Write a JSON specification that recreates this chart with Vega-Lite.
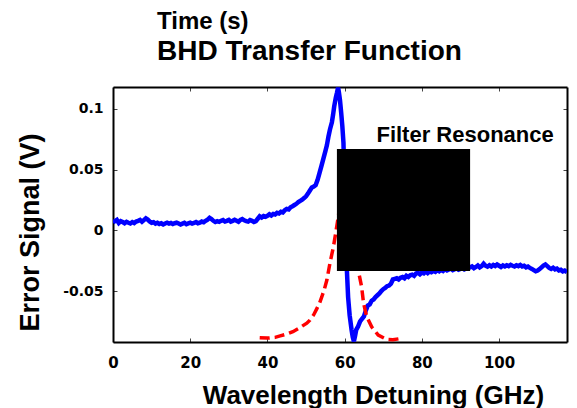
{
  "$schema": "https://vega.github.io/schema/vega-lite/v6.json",
  "width": 454,
  "height": 255,
  "autosize": {"type": "none"},
  "padding": {"left": 113, "top": 87, "right": 10, "bottom": 66},
  "background": "white",
  "config": {
    "view": {"stroke": null},
    "axis": {
      "domainColor": "black",
      "domainWidth": 2,
      "tickColor": "#444444",
      "tickWidth": 1,
      "tickSize": -4,
      "grid": false,
      "labelColor": "black",
      "labelFont": "DejaVu Sans",
      "labelFontWeight": "bold",
      "titleColor": "black",
      "titleFont": "Liberation Sans",
      "titleFontWeight": "bold"
    }
  },
  "title": {
    "text": "Time (s)",
    "subtitle": "BHD Transfer Function",
    "anchor": "start",
    "frame": "group",
    "dx": 44,
    "offset": 21,
    "font": "Liberation Sans",
    "fontSize": 24,
    "fontWeight": "bold",
    "color": "black",
    "subtitleFont": "Liberation Sans",
    "subtitleFontSize": 28,
    "subtitleFontWeight": "bold",
    "subtitleColor": "black",
    "subtitlePadding": 4
  },
  "datasets": {
    "signal": [
      {"x": 0, "y": 0.0065}, {"x": 0.5, "y": 0.0075}, {"x": 1, "y": 0.0085}, {"x": 1.5, "y": 0.006}, {"x": 2, "y": 0.0075}, {"x": 2.5, "y": 0.0068}, {"x": 3, "y": 0.0058}, {"x": 3.5, "y": 0.007}, {"x": 4, "y": 0.0062}, {"x": 4.5, "y": 0.0056}, {"x": 5, "y": 0.0068}, {"x": 5.5, "y": 0.006}, {"x": 6, "y": 0.0072}, {"x": 6.5, "y": 0.0078}, {"x": 7, "y": 0.0085}, {"x": 7.5, "y": 0.007}, {"x": 8, "y": 0.0084}, {"x": 8.5, "y": 0.0098}, {"x": 9, "y": 0.0088}, {"x": 9.5, "y": 0.0072}, {"x": 10, "y": 0.0062}, {"x": 10.5, "y": 0.0066}, {"x": 11, "y": 0.0055}, {"x": 11.5, "y": 0.0062}, {"x": 12, "y": 0.0052}, {"x": 12.5, "y": 0.0058}, {"x": 13, "y": 0.0048}, {"x": 13.5, "y": 0.0056}, {"x": 14, "y": 0.0062}, {"x": 14.5, "y": 0.0055}, {"x": 15, "y": 0.006}, {"x": 15.5, "y": 0.0052}, {"x": 16, "y": 0.0058}, {"x": 16.5, "y": 0.0063}, {"x": 17, "y": 0.0056}, {"x": 17.5, "y": 0.0048}, {"x": 18, "y": 0.0055}, {"x": 18.5, "y": 0.0062}, {"x": 19, "y": 0.005}, {"x": 19.5, "y": 0.0057}, {"x": 20, "y": 0.0062}, {"x": 20.5, "y": 0.0055}, {"x": 21, "y": 0.006}, {"x": 21.5, "y": 0.0068}, {"x": 22, "y": 0.0058}, {"x": 22.5, "y": 0.0062}, {"x": 23, "y": 0.0072}, {"x": 23.5, "y": 0.0066}, {"x": 24, "y": 0.0078}, {"x": 24.5, "y": 0.0088}, {"x": 25, "y": 0.0102}, {"x": 25.5, "y": 0.0092}, {"x": 26, "y": 0.0078}, {"x": 26.5, "y": 0.0068}, {"x": 27, "y": 0.0075}, {"x": 27.5, "y": 0.007}, {"x": 28, "y": 0.0078}, {"x": 28.5, "y": 0.0084}, {"x": 29, "y": 0.0072}, {"x": 29.5, "y": 0.0078}, {"x": 30, "y": 0.0086},
      {"x": 30.5, "y": 0.0072}, {"x": 31, "y": 0.0078}, {"x": 31.5, "y": 0.0086}, {"x": 32, "y": 0.0078}, {"x": 32.5, "y": 0.007}, {"x": 33, "y": 0.0085}, {"x": 33.5, "y": 0.0092}, {"x": 34, "y": 0.0082}, {"x": 34.5, "y": 0.0076}, {"x": 35, "y": 0.0072}, {"x": 35.5, "y": 0.0084}, {"x": 36, "y": 0.0078}, {"x": 36.5, "y": 0.0068}, {"x": 37, "y": 0.0075}, {"x": 37.5, "y": 0.0095}, {"x": 38, "y": 0.0115}, {"x": 38.5, "y": 0.0105}, {"x": 39, "y": 0.0118}, {"x": 39.5, "y": 0.0112}, {"x": 40, "y": 0.012}, {"x": 40.5, "y": 0.0132}, {"x": 41, "y": 0.0122}, {"x": 41.5, "y": 0.0135}, {"x": 42, "y": 0.013}, {"x": 42.5, "y": 0.0144}, {"x": 43, "y": 0.0138}, {"x": 43.5, "y": 0.0152}, {"x": 44, "y": 0.0147}, {"x": 44.5, "y": 0.0165}, {"x": 45, "y": 0.0176}, {"x": 45.5, "y": 0.0172}, {"x": 46, "y": 0.019}, {"x": 46.5, "y": 0.0198}, {"x": 47, "y": 0.0208}, {"x": 47.5, "y": 0.0218}, {"x": 48, "y": 0.0232},
      {"x": 48.5, "y": 0.0242}, {"x": 49, "y": 0.0252}, {"x": 49.5, "y": 0.0265}, {"x": 50, "y": 0.028}, {"x": 50.5, "y": 0.0302}, {"x": 51, "y": 0.0328}, {"x": 51.5, "y": 0.0352}, {"x": 52, "y": 0.036}, {"x": 52.5, "y": 0.0372}, {"x": 53, "y": 0.0415}, {"x": 53.5, "y": 0.0472}, {"x": 54, "y": 0.053}, {"x": 54.5, "y": 0.059}, {"x": 55, "y": 0.065}, {"x": 55.4, "y": 0.07}, {"x": 55.8, "y": 0.077}, {"x": 56.2, "y": 0.083}, {"x": 56.7, "y": 0.089}, {"x": 57, "y": 0.095}, {"x": 57.3, "y": 0.102}, {"x": 57.7, "y": 0.109}, {"x": 58, "y": 0.113}, {"x": 58.3, "y": 0.1175}, {"x": 58.5, "y": 0.114}, {"x": 58.8, "y": 0.107}, {"x": 59.1, "y": 0.097}, {"x": 59.4, "y": 0.086}, {"x": 59.7, "y": 0.072}, {"x": 60, "y": 0.03}, {"x": 60.3, "y": -0.01}, {"x": 60.6, "y": -0.034}, {"x": 60.9, "y": -0.055}, {"x": 61.3, "y": -0.07}, {"x": 61.8, "y": -0.082}, {"x": 62.1, "y": -0.088}, {"x": 62.4, "y": -0.0915}, {"x": 62.7, "y": -0.087}, {"x": 63, "y": -0.082},
      {"x": 63.5, "y": -0.079}, {"x": 64, "y": -0.075}, {"x": 64.5, "y": -0.073}, {"x": 65, "y": -0.071}, {"x": 65.5, "y": -0.066}, {"x": 66, "y": -0.062}, {"x": 66.5, "y": -0.061}, {"x": 67, "y": -0.058}, {"x": 67.5, "y": -0.057}, {"x": 68, "y": -0.055}, {"x": 68.5, "y": -0.0535}, {"x": 69, "y": -0.052}, {"x": 69.5, "y": -0.05}, {"x": 70, "y": -0.0485}, {"x": 70.5, "y": -0.0475}, {"x": 71, "y": -0.046}, {"x": 71.5, "y": -0.0455}, {"x": 72, "y": -0.044}, {"x": 72.5, "y": -0.0405}, {"x": 73, "y": -0.04}, {"x": 73.5, "y": -0.0395}, {"x": 74, "y": -0.0405}, {"x": 74.5, "y": -0.039}, {"x": 75, "y": -0.0385}, {"x": 75.5, "y": -0.0395}, {"x": 76, "y": -0.0375}, {"x": 76.5, "y": -0.0385}, {"x": 77, "y": -0.037}, {"x": 77.5, "y": -0.0365}, {"x": 78, "y": -0.0375}, {"x": 78.5, "y": -0.0355}, {"x": 79, "y": -0.035}, {"x": 79.5, "y": -0.0362}, {"x": 80, "y": -0.0348}, {"x": 80.5, "y": -0.0355}, {"x": 81, "y": -0.034}, {"x": 81.5, "y": -0.0352}, {"x": 82, "y": -0.0338}, {"x": 82.5, "y": -0.0345}, {"x": 83, "y": -0.0335}, {"x": 83.5, "y": -0.0342}, {"x": 84, "y": -0.0328}, {"x": 84.5, "y": -0.0338}, {"x": 85, "y": -0.0325}, {"x": 85.5, "y": -0.0335}, {"x": 86, "y": -0.032}, {"x": 86.5, "y": -0.033}, {"x": 87, "y": -0.0322}, {"x": 87.5, "y": -0.0315}, {"x": 88, "y": -0.0328}, {"x": 88.5, "y": -0.032}, {"x": 89, "y": -0.0312}, {"x": 89.5, "y": -0.0325}, {"x": 90, "y": -0.0318}, {"x": 90.5, "y": -0.031}, {"x": 91, "y": -0.0322}, {"x": 91.5, "y": -0.0315}, {"x": 92, "y": -0.031}, {"x": 92.5, "y": -0.0305}, {"x": 93, "y": -0.0298}, {"x": 93.5, "y": -0.0312}, {"x": 94, "y": -0.0302}, {"x": 94.5, "y": -0.029}, {"x": 95, "y": -0.0305}, {"x": 95.5, "y": -0.0295}, {"x": 96, "y": -0.0275}, {"x": 96.5, "y": -0.0292}, {"x": 97, "y": -0.03}, {"x": 97.5, "y": -0.0288}, {"x": 98, "y": -0.0298}, {"x": 98.5, "y": -0.0285}, {"x": 99, "y": -0.0295}, {"x": 99.5, "y": -0.0282}, {"x": 100, "y": -0.0292}, {"x": 100.5, "y": -0.0302}, {"x": 101, "y": -0.029}, {"x": 101.5, "y": -0.0298}, {"x": 102, "y": -0.0288}, {"x": 102.5, "y": -0.0295}, {"x": 103, "y": -0.0285}, {"x": 103.5, "y": -0.0292}, {"x": 104, "y": -0.0298}, {"x": 104.5, "y": -0.0288}, {"x": 105, "y": -0.0295}, {"x": 105.5, "y": -0.0285}, {"x": 106, "y": -0.0298}, {"x": 106.5, "y": -0.0292}, {"x": 107, "y": -0.0305}, {"x": 107.5, "y": -0.0298}, {"x": 108, "y": -0.031}, {"x": 108.5, "y": -0.0318}, {"x": 109, "y": -0.0328}, {"x": 109.5, "y": -0.0338}, {"x": 110, "y": -0.0332}, {"x": 110.5, "y": -0.032}, {"x": 111, "y": -0.0305}, {"x": 111.5, "y": -0.029}, {"x": 112, "y": -0.0282}, {"x": 112.5, "y": -0.0295}, {"x": 113, "y": -0.031}, {"x": 113.5, "y": -0.0318}, {"x": 114, "y": -0.0308}, {"x": 114.5, "y": -0.0322}, {"x": 115, "y": -0.0315}, {"x": 115.5, "y": -0.033}, {"x": 116, "y": -0.0325}, {"x": 116.5, "y": -0.0338}, {"x": 117, "y": -0.0332}, {"x": 117.6, "y": -0.0345}
    ],
    "filter": [
      {"x": 38, "y": -0.0885}, {"x": 40, "y": -0.0888}, {"x": 42, "y": -0.0882}, {"x": 43.3, "y": -0.087}, {"x": 45, "y": -0.0855}, {"x": 46.6, "y": -0.0835}, {"x": 48, "y": -0.081}, {"x": 49.2, "y": -0.0785}, {"x": 50.2, "y": -0.0765}, {"x": 51, "y": -0.074}, {"x": 52, "y": -0.0695}, {"x": 52.8, "y": -0.0645}, {"x": 53.5, "y": -0.06}, {"x": 54.1, "y": -0.0547}, {"x": 54.8, "y": -0.048}, {"x": 55.4, "y": -0.041}, {"x": 56.2, "y": -0.027}, {"x": 57.1, "y": -0.0135}, {"x": 57.6, "y": -0.004}, {"x": 58.1, "y": 0.006}, {"x": 59, "y": 0.025}, {"x": 60, "y": 0.045}, {"x": 61, "y": 0.055}, {"x": 62, "y": 0.035}, {"x": 63, "y": -0.01}, {"x": 63.6, "y": -0.034}, {"x": 64.4, "y": -0.0465}, {"x": 64.9, "y": -0.06}, {"x": 65.7, "y": -0.071}, {"x": 67, "y": -0.0795}, {"x": 68.7, "y": -0.0863}, {"x": 70.9, "y": -0.0899}, {"x": 72.5, "y": -0.0902}, {"x": 74.4, "y": -0.0892}
    ],
    "box": [{"x1": 58.0, "x2": 92.5, "y1": -0.0336, "y2": 0.067}],
    "label": [{"x": 91.2, "y": 0.0786, "text": "Filter Resonance"}]
  },
  "layer": [
    {
      "data": {"name": "signal"},
      "mark": {"type": "line", "color": "#0000ff", "strokeWidth": 4.5, "clip": true},
      "encoding": {
        "x": {
          "field": "x", "type": "quantitative",
          "scale": {"domain": [0, 117.6], "nice": false, "zero": false},
          "axis": {
            "orient": "bottom",
            "values": [0, 20, 40, 60, 80, 100],
            "labelFontSize": 15,
            "labelPadding": 17,
            "labelFlush": false,
            "title": "Wavelength Detuning (GHz)",
            "titleFontSize": 26,
            "titleX": 260,
            "titleY": 61,
            "titleBaseline": "alphabetic",
            "titleAlign": "center"
          }
        },
        "y": {
          "field": "y", "type": "quantitative",
          "scale": {"domain": [-0.092, 0.118], "nice": false, "zero": false},
          "axis": {
            "orient": "left",
            "values": [-0.05, 0, 0.05, 0.1],
            "labelExpr": "toString(datum.value)",
            "labelFontSize": 14,
            "labelPadding": 14,
            "labelFlush": false,
            "title": "Error Signal (V)",
            "titleFontSize": 27,
            "titleX": -75,
            "titleY": 145,
            "titleAngle": -90,
            "titleBaseline": "alphabetic",
            "titleAlign": "center"
          }
        }
      }
    },
    {
      "data": {"name": "filter"},
      "mark": {"type": "line", "color": "#ff0000", "strokeWidth": 3.5, "strokeDash": [10, 5], "clip": true},
      "encoding": {
        "x": {
          "field": "x", "type": "quantitative",
          "axis": {"orient": "top", "values": [0, 20, 40, 60, 80, 100], "labels": false, "title": null}
        },
        "y": {
          "field": "y", "type": "quantitative",
          "axis": {"orient": "right", "values": [-0.05, 0, 0.05, 0.1], "labels": false, "title": null}
        }
      }
    },
    {
      "data": {"name": "box"},
      "mark": {"type": "rect", "color": "black"},
      "encoding": {
        "x": {"field": "x1", "type": "quantitative", "axis": null},
        "x2": {"field": "x2"},
        "y": {"field": "y1", "type": "quantitative", "axis": null},
        "y2": {"field": "y2"}
      }
    },
    {
      "data": {"name": "label"},
      "mark": {"type": "text", "font": "Liberation Sans", "fontSize": 22, "fontWeight": "bold", "color": "black", "align": "center", "baseline": "middle"},
      "encoding": {
        "x": {"field": "x", "type": "quantitative", "axis": null},
        "y": {"field": "y", "type": "quantitative", "axis": null},
        "text": {"field": "text"}
      }
    }
  ],
  "resolve": {"axis": {"x": "independent", "y": "independent"}}
}
